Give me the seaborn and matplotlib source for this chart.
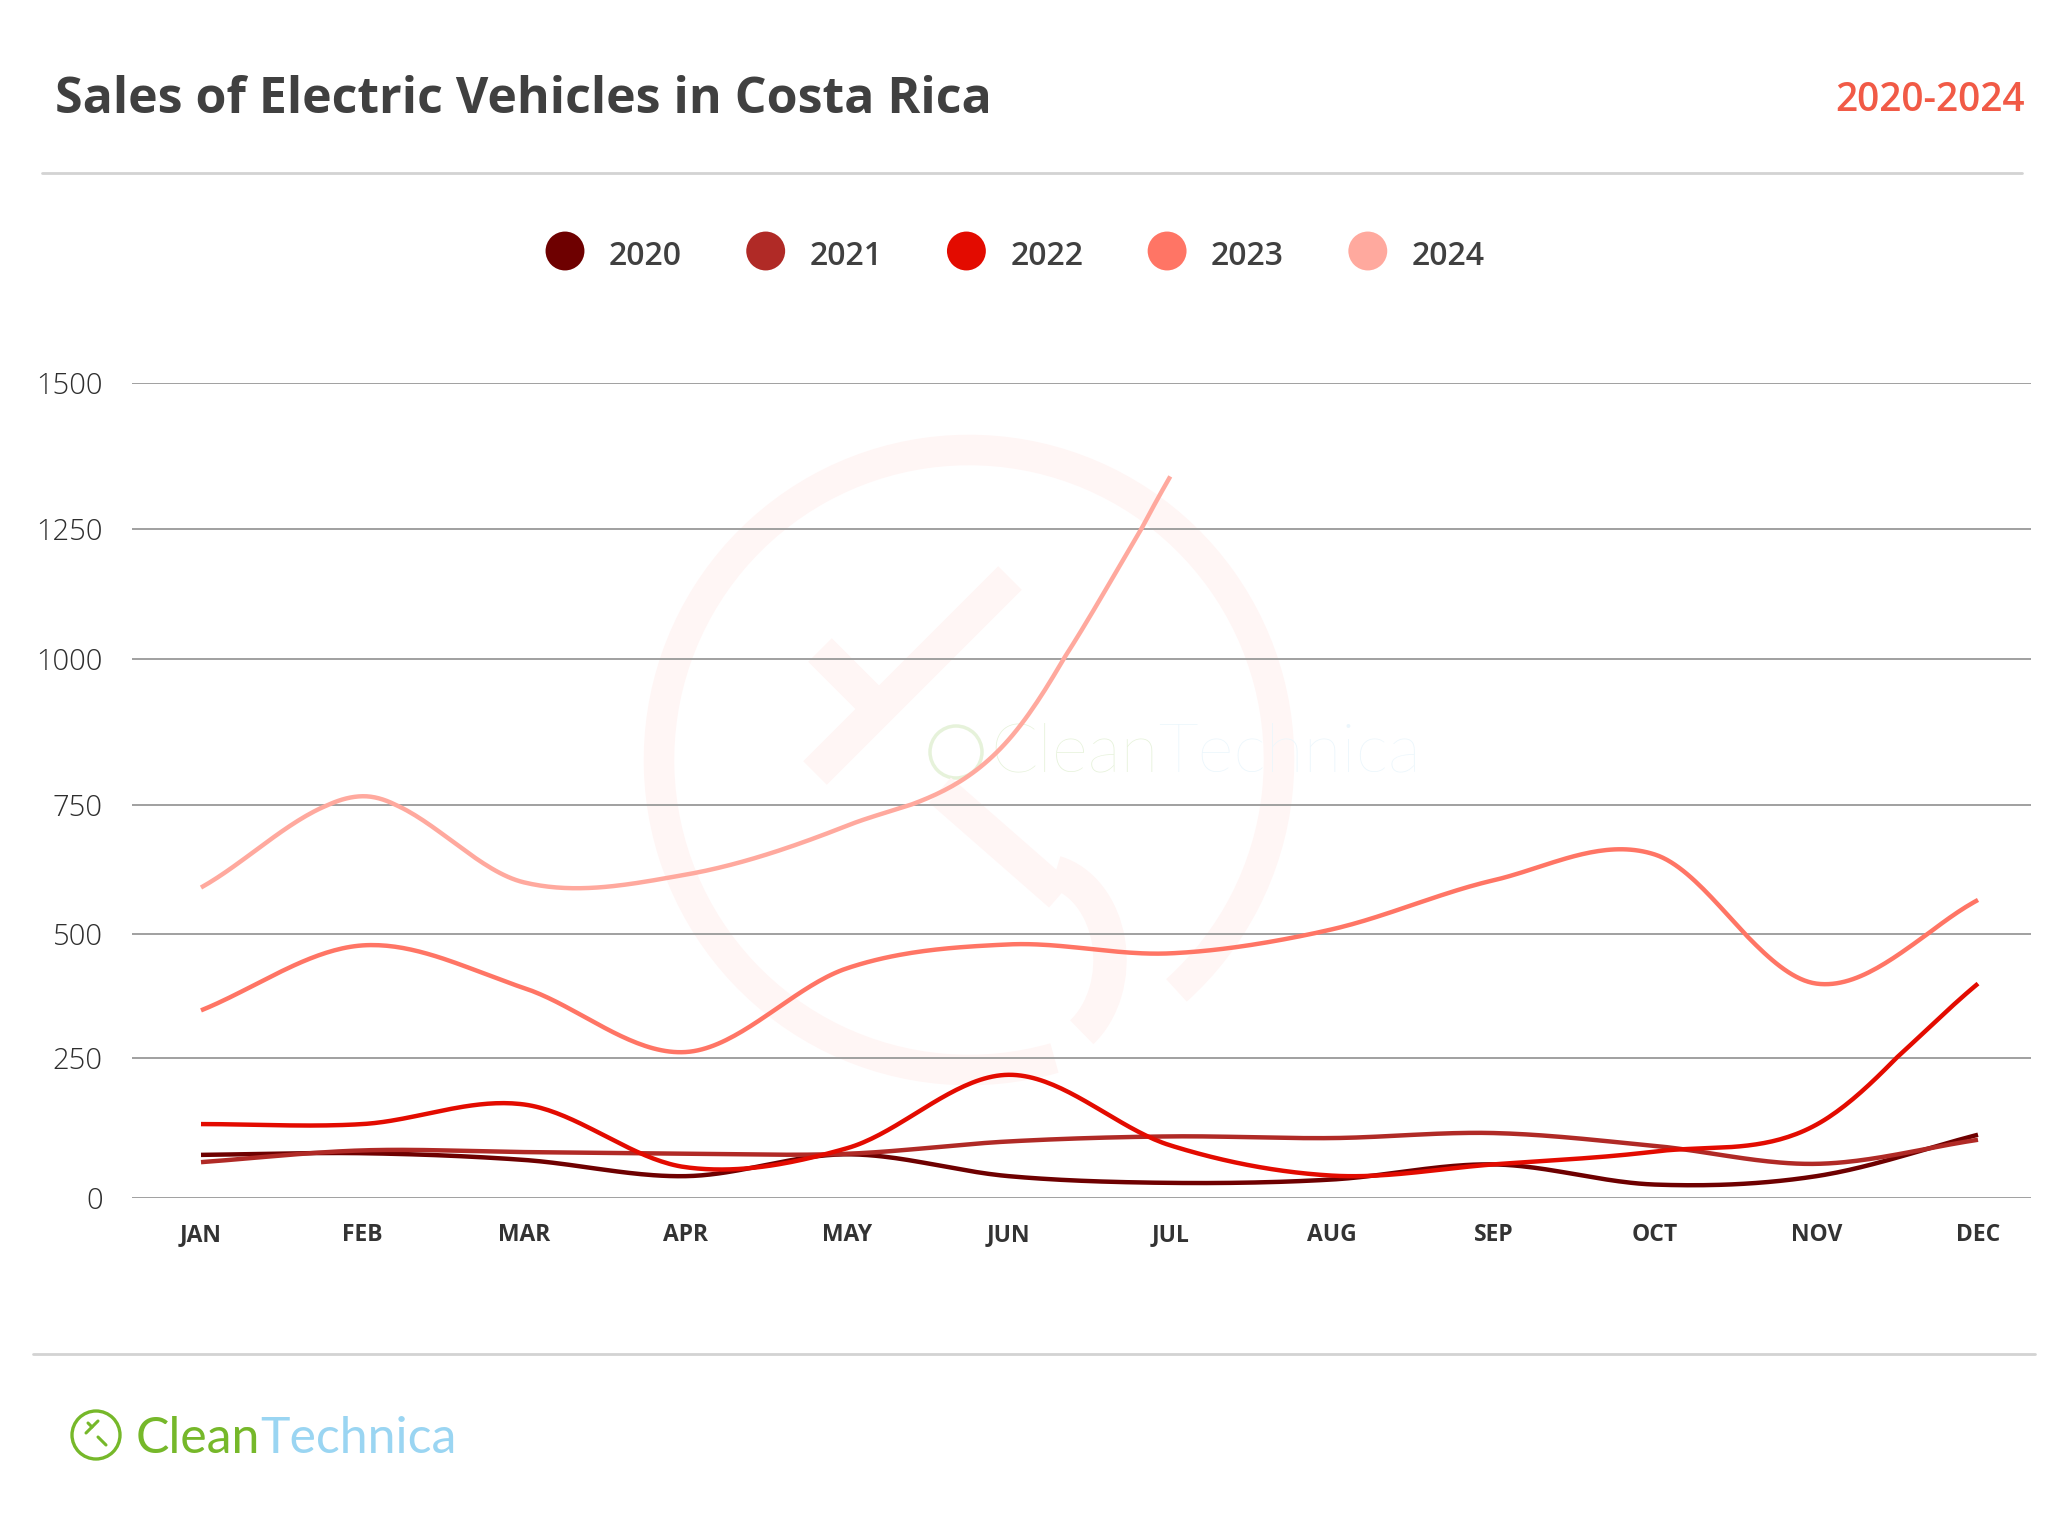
import numpy as np
import pandas as pd
import matplotlib
matplotlib.use("Agg")
import matplotlib.pyplot as plt
import seaborn as sns
from matplotlib.patches import Arc, Circle

# data
months = ["JAN", "FEB", "MAR", "APR", "MAY", "JUN", "JUL", "AUG", "SEP", "OCT", "NOV", "DEC"]
years = ["2020", "2021", "2022", "2023", "2024"]
sales_2020 = [77, 80, 68, 39, 78, 39, 27, 33, 60, 24, 39, 113]
sales_2021 = [64, 85, 82, 79, 79, 101, 110, 107, 116, 93, 61, 104]
sales_2022 = [132, 132, 167, 55, 89, 220, 94, 40, 60, 83, 131, 400]
sales_2023 = [346, 477, 391, 262, 431, 479, 461, 509, 604, 654, 400, 566]
sales_2024 = [590, 765, 600, 615, 710, 862, 1340]
y_ticks = [0, 250, 500, 750, 1000, 1250, 1500]
# the source chart spaces its gridlines unevenly (pixel height above the 0 line)
grid_px = [0, 140, 264, 393, 539, 669, 815]

colors = ["#6e0000", "#b02a26", "#e30b00", "#ff7565", "#ffa99e"]
text_dark = "#404040"


def smooth(values, steps=40):
    """Catmull-Rom curve through the monthly points (display only)."""
    y = np.asarray(values, dtype=float)
    n = len(y)
    m = np.zeros(n)
    m[1:-1] = (y[2:] - y[:-2]) / 2
    m[0] = y[1] - y[0]
    m[-1] = y[-1] - y[-2]
    xs, ys = [], []
    t = np.linspace(0, 1, steps, endpoint=False)
    h00 = 2 * t**3 - 3 * t**2 + 1
    h10 = t**3 - 2 * t**2 + t
    h01 = -2 * t**3 + 3 * t**2
    h11 = t**3 - t**2
    for i in range(n - 1):
        xs.append(i + t)
        ys.append(h00 * y[i] + h10 * m[i] + h01 * y[i + 1] + h11 * m[i + 1])
    xs.append([n - 1])
    ys.append([y[-1]])
    return np.concatenate(xs), np.concatenate(ys)


frames = []
for year, vals in zip(years, [sales_2020, sales_2021, sales_2022, sales_2023, sales_2024]):
    sx, sy = smooth(vals)
    frames.append(pd.DataFrame({"month": sx, "sales": sy, "year": year}))
df = pd.concat(frames, ignore_index=True)

sns.set_theme(style="white")
plt.rcParams["font.family"] = ["Open Sans", "DejaVu Sans"]

W, H = 2072, 1521
fig = plt.figure(figsize=(W / 100, H / 100), dpi=100)
fig.patch.set_facecolor("white")

# background layer in pixel coordinates
bg = fig.add_axes([0, 0, 1, 1], zorder=-1)
bg.set_xlim(0, W)
bg.set_ylim(H, 0)
bg.axis("off")

# faint watermark
wm = "#fff6f5"
bg.add_patch(Arc((969, 760), 620, 620, theta1=74, theta2=408, lw=22, color=wm))
bg.plot([815, 1010], [773, 578], color=wm, lw=24, solid_capstyle="butt")
bg.plot([820, 880], [650, 710], color=wm, lw=24, solid_capstyle="butt")
bg.plot([940, 1060], [790, 895], color=wm, lw=24, solid_capstyle="butt")
bg.add_patch(Arc((1040, 960), 140, 180, theta1=-80, theta2=60, lw=24, color=wm))

# main chart
left, right, top, bottom = 132, 2031, 383, 1198
ax = fig.add_axes([left / W, 1 - bottom / H, (right - left) / W, (bottom - top) / H])
ax.patch.set_alpha(0)
ax.set_yscale("function", functions=(lambda v: np.interp(v, y_ticks, grid_px),
                                      lambda u: np.interp(u, grid_px, y_ticks)))
sns.lineplot(data=df, x="month", y="sales", hue="year", palette=colors,
             sort=False, estimator=None, lw=3.2, legend=False, ax=ax)
for ln in ax.lines:
    ln.set_solid_capstyle("butt")
    ln.set_clip_on(False)

ax.set_ylim(0, 1500)
span = (1978 - 201) / 11
ax.set_xlim(-(201 - left) / span, 11 + (right - 1978) / span)
ax.set_yticks(y_ticks)
ax.set_yticklabels([str(v) for v in y_ticks], fontsize=21, fontweight="light", color="#2e2e2e")
ax.minorticks_off()
ax.set_xticks(range(len(months)))
ax.set_xticklabels(months, fontsize=16.5, fontweight="bold", color="#333333")
ax.tick_params(axis="y", length=0, pad=21)
ax.tick_params(axis="x", length=0, pad=18)
ax.grid(axis="y", color="#999999", lw=1.3)
ax.grid(axis="x", visible=False)
for s in ax.spines.values():
    s.set_visible(False)
ax.set_xlabel("")
ax.set_ylabel("")

# header
bg.text(55, 113, "Sales of Electric Vehicles in Costa Rica", fontsize=36, fontweight="bold",
        color=text_dark, va="baseline", ha="left")
bg.text(2025, 111, "2020-2024", fontsize=28, fontweight="semibold", color="#f15a46",
        va="baseline", ha="right")
bg.plot([42, 2022], [173, 173], color="#d3d3d3", lw=2)
bg.plot([33, 2035], [1354, 1354], color="#d3d3d3", lw=2)

# legend
for i, (year, c) in enumerate(zip(years, colors)):
    cx = 565 + 200.7 * i
    bg.scatter([cx], [251], s=28**2, color=c, edgecolors="none")
    bg.text(cx + 44, 265, year, fontsize=23, fontweight="semibold", color=text_dark,
            va="baseline", ha="left")

# footer logo
green, blue = "#76b82a", "#9ad5f2"
bg.add_patch(Circle((96, 1435), 24, fill=False, lw=2.4, color=green))
bg.plot([86, 98], [1433, 1421], color=green, lw=2.2)
bg.plot([88, 92], [1423, 1427], color=green, lw=2.2)
bg.plot([98, 106], [1437, 1445], color=green, lw=2.2)
fig.canvas.draw()
renderer = fig.canvas.get_renderer()


def brand(x, y, size, c1, c2, weight):
    t1 = bg.text(x, y, "Clean", fontsize=size, fontweight=weight, color=c1,
                 family=["Lato", "DejaVu Sans"], va="baseline", ha="left")
    bb = t1.get_window_extent(renderer)
    bg.text(x + bb.width, y, "Technica", fontsize=size, fontweight=weight, color=c2,
            family=["Lato", "DejaVu Sans"], va="baseline", ha="left")


brand(136, 1453, 36, green, blue, "normal")
brand(990, 772, 50, "#e6f2da", "#ebf6fc", "light")
bg.add_patch(Circle((990 - 34, 752), 26, fill=False, lw=2.5, color="#e6f2da"))

fig.savefig("out.png", dpi=100, facecolor="white")
